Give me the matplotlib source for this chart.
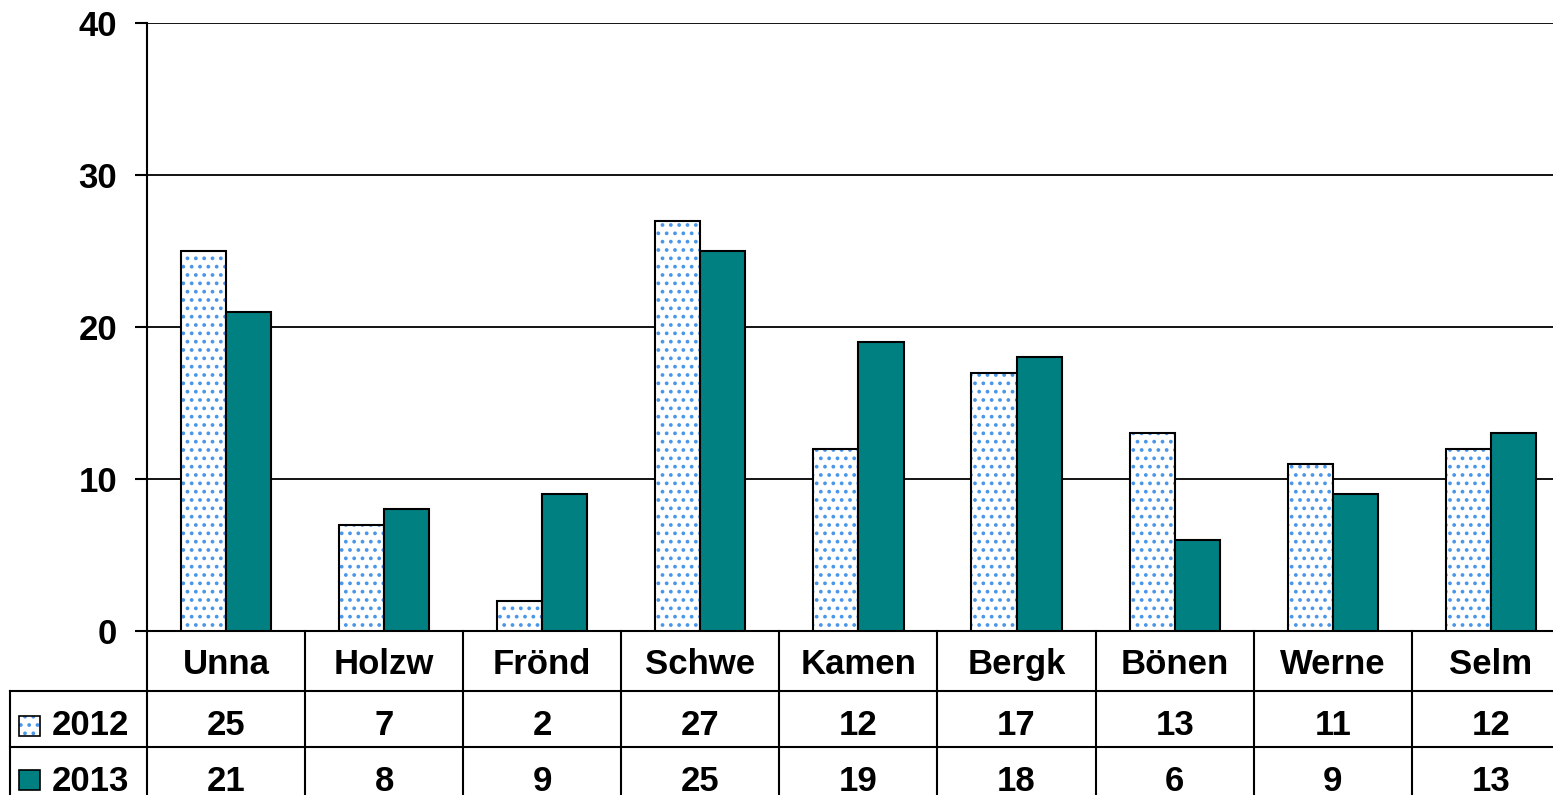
import matplotlib
matplotlib.use("Agg")
import matplotlib.pyplot as plt
from matplotlib.lines import Line2D
from matplotlib.patches import Rectangle
from matplotlib.transforms import blended_transform_factory

# Chart data
categories = ["Unna", "Holzw", "Frönd", "Schwe", "Kamen", "Bergk", "Bönen", "Werne", "Selm"]
values_2012 = [25, 7, 2, 27, 12, 17, 13, 11, 12]
values_2013 = [21, 8, 9, 25, 19, 18, 6, 9, 13]
series_labels = ["2012", "2013"]
yticks = [0, 10, 20, 30, 40]

TEAL = "#008080"
DOT = "#4a96e8"
FS = 25

plt.rcParams["font.family"] = ["Liberation Sans", "DejaVu Sans"]
plt.rcParams["font.weight"] = "bold"
plt.rcParams["hatch.linewidth"] = 1.5

W, H = 1553, 795
fig = plt.figure(figsize=(W / 100, H / 100), dpi=100)

# Plot area in pixels (the chart runs past the right edge of the image)
left, top, bottom = 147, 23, 631
cat_w = 158.1
ax = fig.add_axes([left / W, 1 - bottom / H, len(categories) * cat_w / W, (bottom - top) / H])

def row_y(py):
    # pixel row below the axis -> axes fraction
    return (bottom - py) / (bottom - top)

x = list(range(len(categories)))
bw = 0.285

# 2012: white with blue dots, black outline
ax.bar([i - bw / 2 for i in x], values_2012, bw, color="white", edgecolor=DOT,
       hatch="..", linewidth=0, zorder=3)
ax.bar([i - bw / 2 for i in x], values_2012, bw, fill=False, edgecolor="black",
       linewidth=1.5, zorder=4)
# 2013: teal
ax.bar([i + bw / 2 for i in x], values_2013, bw, color=TEAL, edgecolor="black",
       linewidth=1.5, zorder=4)

ax.set_xlim(-0.5, len(categories) - 0.5)
ax.set_ylim(0, 40)
ax.set_yticks(yticks)
ax.set_xticks([])
ax.yaxis.grid(True, color="black", linewidth=1.3, zorder=1)
ax.set_axisbelow(True)
ax.tick_params(axis="y", direction="out", length=8.5, width=1.5, pad=13, labelsize=FS)
for lab in ax.get_yticklabels():
    lab.set_fontweight("bold")
ax.spines["top"].set_visible(False)
ax.spines["right"].set_visible(False)
ax.spines["left"].set_linewidth(1.5)
ax.spines["bottom"].set_linewidth(1.5)

# Data table below the plot
xt = ax.get_xaxis_transform()
lt = blended_transform_factory(fig.transFigure, ax.transAxes)
y_bot = -0.35
r1, r2 = row_y(691), row_y(747)
# text baselines and key centres of the three table rows
b_head, b_2012, b_2013 = row_y(674), row_y(735), row_y(791)
k_2012, k_2013 = row_y(726), row_y(780)

for k in range(len(categories) + 1):
    ax.add_line(Line2D([k - 0.5, k - 0.5], [0, y_bot], transform=xt, color="black",
                       linewidth=1.5, clip_on=False))
for ry in (r1, r2):
    ax.add_line(Line2D([10 / W, 1.2], [ry, ry], transform=lt, color="black",
                       linewidth=1.5, clip_on=False))
ax.add_line(Line2D([10 / W, 10 / W], [r1, y_bot], transform=lt, color="black",
                   linewidth=1.5, clip_on=False))

for i, name in enumerate(categories):
    ax.text(i, b_head, name, transform=xt, ha="center", va="baseline",
            fontsize=FS, fontweight="bold", clip_on=False)
    ax.text(i, b_2012, str(values_2012[i]), transform=xt, ha="center",
            va="baseline", fontsize=FS, fontweight="bold", clip_on=False)
    ax.text(i, b_2013, str(values_2013[i]), transform=xt, ha="center",
            va="baseline", fontsize=FS, fontweight="bold", clip_on=False)

# Legend keys in the table's first column
sq_w, sq_h = 21 / W, 20 / (bottom - top)
for ky, by, lab, face, hatch in [(k_2012, b_2012, series_labels[0], "white", ".."),
                                 (k_2013, b_2013, series_labels[1], TEAL, None)]:
    if hatch:
        ax.add_patch(Rectangle((19 / W, ky - sq_h / 2), sq_w, sq_h, transform=lt,
                               facecolor=face, edgecolor=DOT, hatch=hatch, linewidth=0,
                               clip_on=False))
        ax.add_patch(Rectangle((19 / W, ky - sq_h / 2), sq_w, sq_h, transform=lt,
                               fill=False, edgecolor="black", linewidth=1.2, clip_on=False))
    else:
        ax.add_patch(Rectangle((19 / W, ky - sq_h / 2), sq_w, sq_h, transform=lt,
                               facecolor=face, edgecolor="black", linewidth=1.2,
                               clip_on=False))
    ax.text(52 / W, by, lab, transform=lt, ha="left", va="baseline", fontsize=FS,
            fontweight="bold", clip_on=False)

fig.savefig("out.png", dpi=100)
